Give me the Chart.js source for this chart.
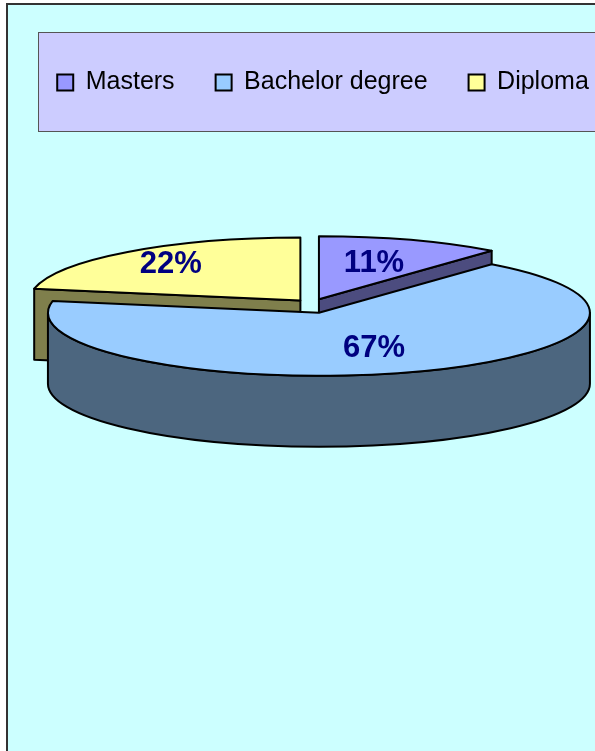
<!DOCTYPE html>
<html>
<head>
<meta charset="utf-8">
<title>Qualification</title>
<script src="https://cdn.jsdelivr.net/npm/chart.js@4.4.1/dist/chart.umd.min.js"></script>
<style>
    html, body { margin: 0; padding: 0; background: #fff; }
    body { width: 595px; height: 751px; overflow: hidden; position: relative; }
    #frame {
        position: absolute; left: 6px; top: 3px; right: 0; bottom: 0;
        background: #ccffff;
        border-left: 2px solid #333;
        border-top: 2px solid #333;
    }
    /* canvas runs past the right edge, like the cut-off legend panel */
    #chart { position: absolute; left: 0; top: 0; }
</style>
</head>
<body>
<div id="frame"></div>
<canvas id="chart" width="680" height="751"></canvas>
<script>
// Chart data
const categories = ['Masters', 'Bachelor degree', 'Diploma'];
const shares = [11, 67, 22];

// Slice colours (top face and the darker side walls)
const topColors = ['#9999ff', '#99ccff', '#ffff99'];
const sideColors = ['#4c4c7f', '#4c667f', '#7f7f4c'];
const labelRadius = [0.6, 0.6, 0.75];

// 3D pie geometry on the page
const PIE = { cx: 312.5, cy: 306, rx: 271, ry: 63, depth: 71, liftY: 0.38 };
const FONT = "Arial, 'Liberation Sans', sans-serif";

function wallPath(c, s, t0, t1) {
    const { rx, ry, depth } = PIE;
    c.beginPath();
    c.ellipse(s.x, s.y, rx, ry, 0, t0, t1);
    c.lineTo(s.x + rx * Math.cos(t1), s.y + depth + ry * Math.sin(t1));
    c.ellipse(s.x, s.y + depth, rx, ry, 0, t1, t0, true);
    c.closePath();
}

function radialPath(c, s, a) {
    const px = s.x + PIE.rx * Math.cos(a);
    const py = s.y + PIE.ry * Math.sin(a);
    c.beginPath();
    c.moveTo(s.x, s.y);
    c.lineTo(px, py);
    c.lineTo(px, py + PIE.depth);
    c.lineTo(s.x, s.y + PIE.depth);
    c.closePath();
}

function topPath(c, s) {
    c.beginPath();
    c.moveTo(s.x, s.y);
    c.ellipse(s.x, s.y, PIE.rx, PIE.ry, 0, s.a0, s.a1);
    c.closePath();
}

function paint(c, fill) {
    c.fillStyle = fill;
    c.fill();
    c.stroke();
}

const pie3d = {
    id: 'pie3d',
    beforeDraw(chart) {
        // legend panel
        const c = chart.ctx;
        c.save();
        c.fillStyle = '#ccccff';
        c.fillRect(38, 32, 620, 99);
        c.strokeStyle = '#555';
        c.lineWidth = 1;
        c.strokeRect(38.5, 32.5, 620, 99);
        c.restore();
    },
    beforeDatasetsDraw(chart) {
        const c = chart.ctx;
        const meta = chart.getDatasetMeta(0);
        const total = shares.reduce((a, b) => a + b, 0);

        const slices = meta.data.map((arc, i) => {
            const a0 = arc.startAngle, a1 = arc.endAngle, mid = (a0 + a1) / 2;
            const off = arc.options.offset || 0;
            return {
                i, a0, a1, mid,
                x: PIE.cx + Math.cos(mid) * off,
                y: PIE.cy + Math.sin(mid) * off * PIE.liftY
            };
        });

        // back slices first, front ones over them
        const order = slices.slice().sort((p, q) => Math.sin(p.mid) - Math.sin(q.mid));

        c.save();
        c.strokeStyle = '#000';
        c.lineWidth = 2;
        c.lineJoin = 'round';
        order.forEach(s => {
            if (Math.cos(s.a0) < -1e-6) {
                radialPath(c, s, s.a0);
                paint(c, sideColors[s.i]);
            }
            if (Math.cos(s.a1) > 1e-6) {
                radialPath(c, s, s.a1);
                paint(c, sideColors[s.i]);
            }
            const t0 = Math.max(s.a0, 0), t1 = Math.min(s.a1, Math.PI);
            if (t1 > t0) {
                wallPath(c, s, t0, t1);
                paint(c, sideColors[s.i]);
            }
            topPath(c, s);
            paint(c, topColors[s.i]);
        });

        // percentage labels
        c.fillStyle = '#000080';
        c.font = 'bold 31px ' + FONT;
        c.textAlign = 'center';
        c.textBaseline = 'middle';
        slices.forEach(s => {
            const r = labelRadius[s.i];
            const lx = s.x + PIE.rx * r * Math.cos(s.mid);
            const ly = s.y + PIE.ry * r * Math.sin(s.mid);
            c.fillText(Math.round(shares[s.i] / total * 100) + '%', lx, ly);
        });
        c.restore();
        return false;
    }
};

new Chart(document.getElementById('chart'), {
    type: 'pie',
    data: {
        labels: categories,
        datasets: [{
            data: shares,
            backgroundColor: topColors,
            borderColor: '#000',
            borderWidth: 2,
            offset: 19
        }]
    },
    options: {
        responsive: false,
        animation: false,
        layout: { padding: { left: 0, right: 34, top: 29 } },
        plugins: {
            legend: {
                position: 'top',
                labels: {
                    color: '#000',
                    font: { family: FONT, size: 25 },
                    boxWidth: 16,
                    boxHeight: 16,
                    padding: 41
                }
            },
            tooltip: { enabled: false }
        }
    },
    plugins: [pie3d]
});
</script>
</body>
</html>
